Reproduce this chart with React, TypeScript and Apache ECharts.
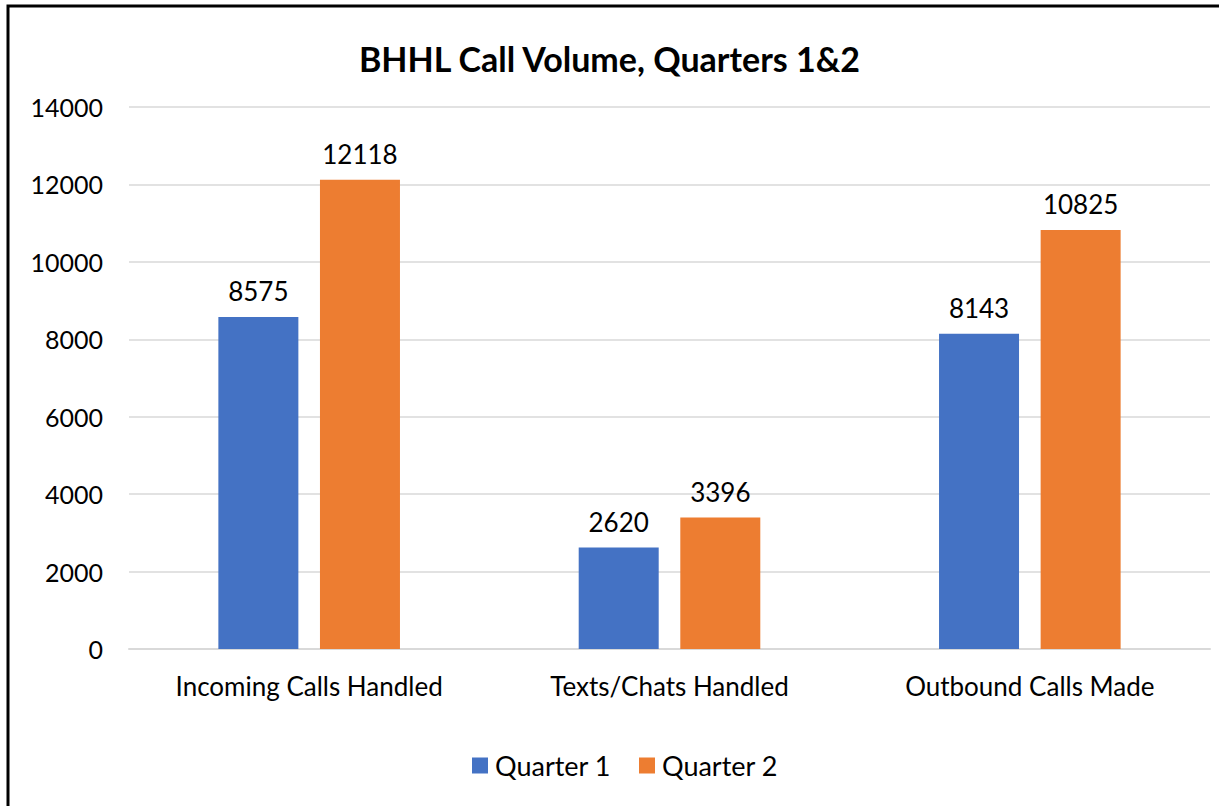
import React, { useEffect, useRef } from "react";
import * as echarts from "echarts";

const categories = ["Incoming Calls Handled", "Texts/Chats Handled", "Outbound Calls Made"];
const quarter1 = [8575, 2620, 8143];
const quarter2 = [12118, 3396, 10825];
const seriesNames = ["Quarter 1", "Quarter 2"];
const titleText = "BHHL Call Volume, Quarters 1&2";

const FONT = "Lato, 'Open Sans', sans-serif";

export default function App() {
  const ref = useRef<HTMLDivElement>(null);
  useEffect(() => {
    document.body.style.margin = "0";
    const chart = echarts.init(ref.current!, undefined, { renderer: "svg" });
    chart.setOption({
      animation: false,
      backgroundColor: "#fff",
      textStyle: { fontFamily: FONT },
      title: {
        text: titleText,
        left: "center",
        top: 36,
        textStyle: { fontFamily: FONT, fontSize: 34, fontWeight: "bold", color: "#000" },
      },
      graphic: [
        {
          type: "rect",
          shape: { x: 8, y: 6, width: 1300, height: 900 },
          style: { fill: "none", stroke: "#000", lineWidth: 3 },
          silent: true,
        },
      ],
      legend: {
        bottom: 22,
        left: 467,
        itemWidth: 16,
        itemHeight: 16,
        itemGap: 28,
        icon: "rect",
        textStyle: { fontFamily: FONT, fontSize: 27, color: "#000", padding: [0, 0, 0, 2] },
        data: seriesNames,
      },
      grid: { left: 129, right: 9, top: 107, bottom: 157, containLabel: false },
      xAxis: {
        type: "category",
        data: categories,
        axisLine: { lineStyle: { color: "#d9d9d9", width: 2 } },
        axisTick: { show: false },
        axisLabel: { fontFamily: FONT, fontSize: 26, color: "#000", margin: 24 },
      },
      yAxis: {
        type: "value",
        min: 0,
        max: 14000,
        interval: 2000,
        axisLine: { show: false },
        axisTick: { show: false },
        splitLine: { lineStyle: { color: "#d9d9d9", width: 1.5 } },
        axisLabel: {
          fontFamily: FONT,
          fontSize: 25,
          color: "#000",
          margin: 26,
          formatter: (v: number) => String(v),
        },
      },
      series: [
        {
          name: seriesNames[0],
          type: "bar",
          data: quarter1,
          itemStyle: { color: "#4472c4" },
          barWidth: 80,
          barGap: "27%",
          label: { show: true, position: "top", distance: 13, fontFamily: FONT, fontSize: 26, color: "#000" },
        },
        {
          name: seriesNames[1],
          type: "bar",
          data: quarter2,
          itemStyle: { color: "#ed7d31" },
          barWidth: 80,
          label: { show: true, position: "top", distance: 13, fontFamily: FONT, fontSize: 26, color: "#000" },
        },
      ],
    });
    return () => chart.dispose();
  }, []);
  return <div ref={ref} style={{ width: 1219, height: 806 }} />;
}
